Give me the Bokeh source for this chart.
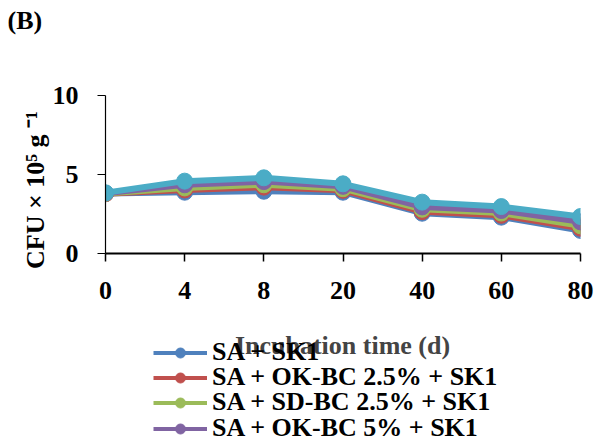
import math
from bokeh.plotting import figure
from bokeh.layouts import column
from bokeh.models import Range1d, FixedTicker, Label, Legend, LegendItem, Title
from bokeh.embed import file_html
from bokeh.resources import INLINE

days = ["0", "4", "8", "20", "40", "60", "80"]
series_names = [
    "SA + SK1",
    "SA + OK-BC 2.5% + SK1",
    "SA + SD-BC 2.5% + SK1",
    "SA + OK-BC 5% + SK1",
    "SA + SD-BC 5% + SK1",
]
sa_sk1 = [3.80, 3.88, 3.94, 3.88, 2.55, 2.30, 1.46]
sa_ok25 = [3.78, 4.02, 4.20, 4.00, 2.65, 2.42, 1.60]
sa_sd25 = [3.80, 4.15, 4.35, 4.10, 2.80, 2.56, 1.75]
sa_ok5 = [3.82, 4.35, 4.55, 4.25, 2.95, 2.72, 2.00]
sa_sd5 = [3.84, 4.58, 4.79, 4.41, 3.25, 2.97, 2.34]
colors = ["#4F81BD", "#C0504D", "#9BBB59", "#8064A2", "#4BACC6"]
all_values = [sa_sk1, sa_ok25, sa_sd25, sa_ok5, sa_sd5]

FONT = "Liberation Serif"
FS = "26px"
W = 595
H1 = 315
H2 = 131

xs = list(range(len(days)))

p = figure(width=W, height=H1, output_backend="svg", toolbar_location=None,
           x_range=Range1d(0, len(days) - 1), y_range=Range1d(0, 10),
           min_border_left=105, min_border_right=15, min_border_top=95,
           min_border_bottom=62)
p.outline_line_color = None
p.grid.grid_line_color = None

title = Title(text="(B)\n\u00a0\n\u00a0", align="left", offset=-98, standoff=0,
              vertical_align="bottom", text_line_height=1.04,
              text_font=FONT, text_font_size="26px", text_font_style="bold",
              text_color="black")
p.add_layout(title, "above")

p.xaxis.ticker = FixedTicker(ticks=xs)
p.xaxis.major_label_overrides = {i: d for i, d in enumerate(days)}
p.yaxis.ticker = FixedTicker(ticks=[0, 5, 10])
for ax in (p.xaxis, p.yaxis):
    ax.major_label_text_font = FONT
    ax.major_label_text_font_size = FS
    ax.major_label_text_font_style = "bold"
    ax.major_label_text_color = "black"
    ax.major_tick_in = 0
    ax.major_tick_out = 8
    ax.minor_tick_line_color = None
    ax.major_tick_line_color = "black"
    ax.axis_line_color = "black"
p.xaxis.axis_line_width = 2
p.xaxis.major_tick_line_width = 1.5
p.yaxis.axis_line_width = 1.2
p.yaxis.major_tick_line_width = 1.2
p.xaxis.major_label_standoff = 20
p.yaxis.major_label_standoff = 19
p.yaxis.axis_label = "CFU × 10⁵ g ⁻¹\u2002\u2002\u2009"
p.yaxis.axis_label_text_font = FONT
p.yaxis.axis_label_text_font_size = FS
p.yaxis.axis_label_text_font_style = "bold"
p.yaxis.axis_label_text_color = "black"
p.yaxis.axis_label_standoff = 0

for name, vals, c in zip(series_names, all_values, colors):
    p.line(xs, vals, line_color=c, line_width=6)
    p.scatter(xs, vals, size=16, fill_color=c, line_color=c)

# lower panel: x-axis title and legend (frame aligned with the chart frame)
q = figure(width=W, height=H2, output_backend="svg", toolbar_location=None,
           x_range=Range1d(0, 475), y_range=Range1d(0, H2),
           min_border_left=105, min_border_right=15,
           min_border_top=0, min_border_bottom=0)
q.axis.visible = False
q.grid.grid_line_color = None
q.outline_line_color = None

# one legend block per entry, so the rows can sit as tightly as in the reference
row_bottoms = [79, 54, 29, 3]
for name, c, yb in zip(series_names[:4], colors[:4], row_bottoms):
    ln = q.line([-100, -90], [-100, -100], line_color=c, line_width=4)
    sc = q.scatter([-100], [-100], size=12, fill_color=c, line_color=c)
    lg = Legend(items=[LegendItem(label=name, renderers=[ln, sc])],
                location=(48, yb), orientation="vertical",
                label_text_font=FONT, label_text_font_size=FS,
                label_text_font_style="bold", label_text_color="black",
                glyph_width=54, glyph_height=25, label_height=25,
                label_standoff=5, spacing=0, padding=0, margin=0,
                border_line_color=None, background_fill_alpha=0)
    q.add_layout(lg, "center")

q.add_layout(Label(x=237, y=101, x_units="screen", y_units="screen",
                   text="Incubation time (d)", text_font=FONT,
                   text_font_size=FS, text_font_style="bold",
                   text_align="center", text_baseline="middle",
                   level="overlay"))

layout = column(p, q, spacing=0)
open("out.html", "w").write(file_html(layout, INLINE))
